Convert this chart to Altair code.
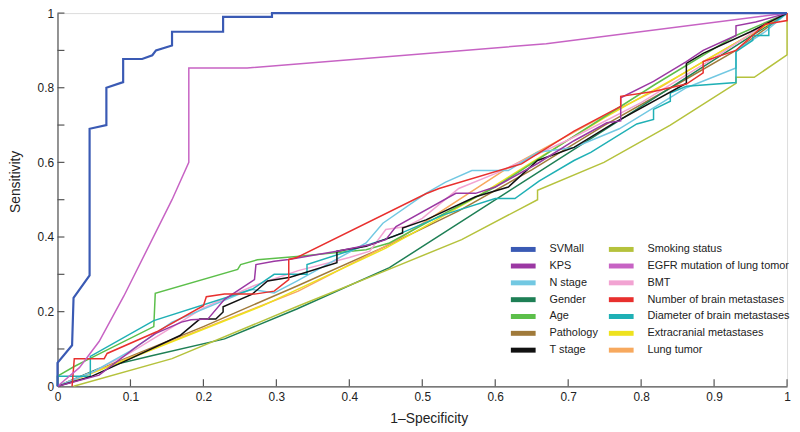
import altair as alt
import pandas as pd

# ---- data ----
SVMALL = [(0, 0), (0, 0.063), (0.02, 0.11), (0.022, 0.237), (0.044, 0.297), (0.044, 0.69),
          (0.067, 0.70), (0.067, 0.80), (0.09, 0.815), (0.09, 0.877), (0.116, 0.877),
          (0.13, 0.887), (0.135, 0.90), (0.157, 0.913), (0.157, 0.95), (0.227, 0.95),
          (0.227, 0.99), (0.294, 0.99), (0.294, 1.0), (1.0, 1.0)]
KPS = [(0, 0), (0.057, 0.03), (0.111, 0.11), (0.134, 0.141), (0.17, 0.172), (0.183, 0.178),
       (0.206, 0.18), (0.229, 0.233), (0.27, 0.286), (0.272, 0.326), (0.297, 0.335),
       (0.317, 0.34), (0.383, 0.362), (0.428, 0.379), (0.45, 0.393), (0.464, 0.428),
       (0.546, 0.517), (0.573, 0.517), (0.6, 0.534), (0.658, 0.597), (0.708, 0.658),
       (0.753, 0.706), (0.772, 0.711), (0.772, 0.773), (0.817, 0.817), (0.862, 0.87),
       (0.885, 0.9), (0.93, 0.94), (0.93, 0.966), (0.957, 0.976), (1, 1)]
N_STAGE = [(0, 0), (0.05, 0.04), (0.1, 0.095), (0.157, 0.172), (0.265, 0.26), (0.297, 0.25),
           (0.328, 0.282), (0.423, 0.384), (0.446, 0.437), (0.505, 0.517), (0.532, 0.547),
           (0.568, 0.578), (0.618, 0.578), (0.658, 0.627), (0.708, 0.64), (0.77, 0.69),
           (0.862, 0.80), (0.93, 0.853), (0.93, 0.9), (0.97, 0.95), (1, 1)]
GENDER = [(0, 0), (0.057, 0.048), (0.129, 0.082), (0.229, 0.127), (0.328, 0.207),
          (0.455, 0.318), (0.98, 0.975), (1, 1)]
AGE = [(0, 0), (0, 0.027), (0.023, 0.053), (0.04, 0.07), (0.132, 0.16), (0.134, 0.249),
       (0.247, 0.313), (0.251, 0.326), (0.274, 0.339), (0.328, 0.348), (0.423, 0.366),
       (0.455, 0.384), (0.505, 0.437), (0.6, 0.534), (0.7, 0.66), (0.82, 0.81),
       (0.93, 0.94), (1, 1)]
PATHOLOGY = [(0, 0), (0.1, 0.08), (0.2, 0.16), (0.33, 0.27), (0.45, 0.375), (0.55, 0.47),
             (0.65, 0.58), (0.75, 0.7), (0.85, 0.81), (0.93, 0.9), (1, 1)]
T_STAGE = [(0, 0), (0.046, 0.026), (0.1, 0.074), (0.168, 0.136), (0.195, 0.18), (0.217, 0.18),
           (0.227, 0.199), (0.227, 0.213), (0.267, 0.247), (0.288, 0.282), (0.319, 0.292),
           (0.383, 0.331), (0.383, 0.362), (0.423, 0.375), (0.473, 0.411), (0.473, 0.424),
           (0.505, 0.446), (0.573, 0.508), (0.618, 0.534), (0.658, 0.605), (0.708, 0.64),
           (0.763, 0.706), (0.862, 0.812), (0.862, 0.865), (0.885, 0.892), (0.95, 0.95), (1, 1)]
SMOKING = [(0.022, 0), (0.157, 0.074), (0.33, 0.215), (0.45, 0.31), (0.554, 0.393),
           (0.658, 0.5), (0.658, 0.525), (0.749, 0.60), (0.84, 0.70), (0.93, 0.812),
           (0.93, 0.828), (0.955, 0.828), (1, 0.888), (1, 1)]
EGFR = [(0, 0), (0.03, 0.05), (0.057, 0.12), (0.091, 0.242), (0.157, 0.50), (0.18, 0.60),
        (0.18, 0.853), (0.26, 0.853), (0.67, 0.918), (1, 1)]
BMT = [(0, 0), (0.05, 0.04), (0.1, 0.09), (0.15, 0.15), (0.2, 0.21), (0.27, 0.27),
       (0.33, 0.31), (0.4, 0.345), (0.428, 0.362), (0.45, 0.42), (0.478, 0.428), (0.5, 0.45),
       (0.55, 0.53), (0.6, 0.57), (0.7, 0.66), (0.8, 0.76), (0.9, 0.88), (0.97, 0.97), (1, 1)]
NUM_METS = [(0.02, 0), (0.023, 0.074), (0.064, 0.074), (0.068, 0.088), (0.136, 0.146),
            (0.2, 0.216), (0.204, 0.24), (0.229, 0.247), (0.27, 0.247), (0.297, 0.255),
            (0.317, 0.286), (0.317, 0.34), (0.328, 0.345), (0.505, 0.516), (0.523, 0.53),
            (0.636, 0.596), (0.708, 0.684), (0.772, 0.75), (0.772, 0.777), (0.817, 0.79),
            (0.862, 0.81), (0.885, 0.84), (0.885, 0.87), (0.93, 0.9), (0.97, 0.97),
            (1, 0.98), (1, 1)]
DIAMETER = [(0, 0), (0, 0.027), (0.045, 0.027), (0.045, 0.08), (0.132, 0.176), (0.267, 0.26),
            (0.297, 0.30), (0.342, 0.30), (0.342, 0.326), (0.46, 0.401), (0.53, 0.46),
            (0.6, 0.503), (0.627, 0.503), (0.66, 0.55), (0.708, 0.605), (0.731, 0.627),
            (0.794, 0.703), (0.817, 0.715), (0.817, 0.742), (0.84, 0.764), (0.84, 0.786),
            (0.862, 0.804), (0.93, 0.814), (0.93, 0.897), (0.953, 0.927), (0.953, 0.94),
            (0.975, 0.94), (0.975, 0.966), (1, 1)]
EXTRACRANIAL = [(0, 0), (0.1, 0.075), (0.28, 0.215), (0.45, 0.37), (0.505, 0.43),
                (0.577, 0.51), (0.65, 0.6), (0.75, 0.72), (0.85, 0.83), (0.93, 0.92), (1, 1)]
LUNG_TUMOR = [(0, 0), (0.33, 0.255), (0.464, 0.39), (0.613, 0.58), (0.735, 0.71),
              (0.817, 0.79), (0.885, 0.87), (0.93, 0.92), (1, 1)]

# series name, points, colour  (draw order: first drawn first)
SERIES = [
    ("Pathology", PATHOLOGY, "#a07a3a"),
    ("Gender", GENDER, "#1e7f55"),
    ("Smoking status", SMOKING, "#b5c23c"),
    ("Lung tumor", LUNG_TUMOR, "#f7a95e"),
    ("Extracranial metastases", EXTRACRANIAL, "#eee21e"),
    ("Age", AGE, "#5cbf4a"),
    ("BMT", BMT, "#f2a3d2"),
    ("N stage", N_STAGE, "#72c8e2"),
    ("Diameter of brain metastases", DIAMETER, "#1fb0b5"),
    ("T stage", T_STAGE, "#111111"),
    ("KPS", KPS, "#9b38a3"),
    ("Number of brain metastases", NUM_METS, "#e8302e"),
    ("EGFR mutation of lung tomor", EGFR, "#c763c4"),
    ("SVMall", SVMALL, "#3a5ab4"),
]
# legend order (two columns, filled column by column)
LEGEND_ORDER = ["SVMall", "KPS", "N stage", "Gender", "Age", "Pathology", "T stage",
                "Smoking status", "EGFR mutation of lung tomor", "BMT",
                "Number of brain metastases", "Diameter of brain metastases",
                "Extracranial metastases", "Lung tumor"]
TICK_VALUES = [0.1, 0.2, 0.3, 0.4, 0.5, 0.6, 0.7, 0.8, 0.9, 1.0]
LABEL_VALUES = [0, 0.1, 0.2, 0.3, 0.4, 0.5, 0.6, 0.7, 0.8, 0.9, 1.0]

colour_of = {n: c for n, _, c in SERIES}
rows = []
for k, (name, pts, _) in enumerate(SERIES):
    for i, (x, y) in enumerate(pts):
        rows.append({"series": name, "fpr": x, "tpr": y, "order": i, "draw": k,
                     "w": 2.2 if name == "SVMall" else 1.5})
df = pd.DataFrame(rows)
ticks_df = pd.DataFrame({"v": TICK_VALUES})

W, H = 737, 377
FONT = "Liberation Sans"

xscale = alt.Scale(domain=[0, 1], nice=False, zero=False)
yscale = alt.Scale(domain=[0, 1], nice=False, zero=False)
color = alt.Color(
    "series:N",
    scale=alt.Scale(domain=LEGEND_ORDER, range=[colour_of[n] for n in LEGEND_ORDER]),
    legend=alt.Legend(title=None, orient="none", legendX=464, legendY=232, columns=2,
                      symbolType="M-3.125,0H3.125", symbolSize=64, symbolStrokeWidth=5,
                      labelFont=FONT, labelFontSize=11, labelColor="#222",
                      labelOffset=20, columnPadding=1, rowPadding=-10, symbolOpacity=1),
)

base = alt.Chart(df)
lines_main = base.transform_filter(alt.datum.series != "SVMall").mark_line(
    interpolate="linear", strokeJoin="miter").encode(
    x=alt.X("fpr:Q", scale=xscale,
            axis=alt.Axis(values=LABEL_VALUES, format=".1~f", title="1\u2013Specificity",
                          ticks=False, grid=False, labelPadding=5, labelFontSize=12,
                          labelFont=FONT, labelColor="#222", domainColor="#555",
                          domainWidth=1.2, titleFont=FONT, titleFontSize=14,
                          titleFontWeight="normal", titleColor="#222",
                          titleX=375, titleY=37, titleBaseline="alphabetic",
                          labelFlush=False)),
    y=alt.Y("tpr:Q", scale=yscale,
            axis=alt.Axis(values=LABEL_VALUES, format=".1~f", title="Sensitivity",
                          ticks=False, grid=False, labelPadding=4, labelFontSize=12,
                          labelFont=FONT, labelColor="#222", domainColor="#555",
                          domainWidth=1.2, titleFont=FONT, titleFontSize=14,
                          titleFontWeight="normal", titleColor="#222",
                          titleAngle=270, titleX=-42, titleY=170,
                          titleBaseline="middle", titleAlign="center",
                          labelFlush=False)),
    color=color,
    detail="series:N",
    order="order:Q",
    strokeWidth=alt.StrokeWidth("w:Q", scale=None, legend=None),
)
lines_top = base.transform_filter(alt.datum.series == "SVMall").mark_line(
    strokeJoin="miter").encode(
    x=alt.X("fpr:Q", scale=xscale),
    y=alt.Y("tpr:Q", scale=yscale),
    color=color,
    order="order:Q",
    strokeWidth=alt.StrokeWidth("w:Q", scale=None, legend=None),
)

yticks = alt.Chart(ticks_df).mark_rule(color="#555", strokeWidth=1.2).encode(
    y=alt.Y("v:Q", scale=yscale), x=alt.value(0), x2=alt.value(7))
xticks = alt.Chart(ticks_df).mark_rule(color="#555", strokeWidth=1.2).encode(
    x=alt.X("v:Q", scale=xscale), y=alt.value(H), y2=alt.value(H - 7))

chart = alt.layer(lines_main, lines_top, yticks, xticks).properties(
    width=W, height=H,
    autosize=alt.AutoSizeParams(type="none"),
    padding={"left": 50, "top": 3, "right": 5, "bottom": 41},
).configure_view(stroke=None).configure(background="white")

chart.save("out.html", embed_options={"renderer": "svg", "actions": False})
